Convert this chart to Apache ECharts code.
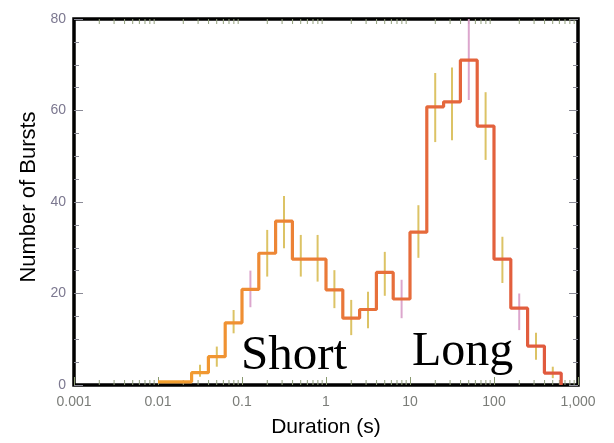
<!DOCTYPE html>
<html>
<head>
<meta charset="utf-8">
<script src="https://cdn.jsdelivr.net/npm/echarts@6/dist/echarts.min.js"></script>
<style>
  html, body { margin: 0; padding: 0; background: #fff; }
  #chart { width: 614px; height: 443px; }
</style>
</head>
<body>
<div id="chart"></div>
<script>
// bin edges as powers of ten (seconds), 0.2 decade wide
const binExp = [-2.0, -1.8, -1.6, -1.4, -1.2, -1.0, -0.8, -0.6, -0.4, -0.2, 0.0, 0.2,
  0.4, 0.6, 0.8, 1.0, 1.2, 1.4, 1.6, 1.8, 2.0, 2.2, 2.4, 2.6, 2.8]
// number of bursts in each bin
const counts = [0.7, 0.7, 2.7, 6.2, 13.6, 20.9, 28.8, 35.8, 27.5, 27.5, 20.8, 14.6,
  16.5, 24.6, 18.8, 33.4, 60.8, 61.9, 71, 56.6, 27.5, 16.8, 8.5, 2.6]
// error bar ends for each bin (null = not drawn)
const errLow = [null, null, 1.8, 4.0, 11.3, 17, 23.7, 29.9, 23.7, 22.6, 16.8, 10.9,
  12.4, 19.5, 14.6, 27.8, 53.1, 53.5, 62.3, 49.2, 22.3, 12, 5.5, 1.5]
const errHigh = [null, null, 4.4, 8.4, 16.4, 25, 33.9, 41.3, 32.8, 32.8, 25.1, 18.6,
  20.4, 29.1, 23, 39.3, 68.2, 69.4, 80, 64, 32.4, 20, 11.4, 4]
// x tick labels
const xTickVals = [0.001, 0.01, 0.1, 1, 10, 100, 1000]
const xTickLabels = ['0.001', '0.01', '0.1', '1', '10', '100', '1,000']

const chart = echarts.init(document.getElementById('chart'))

// step line points: left edge of each bin with its count, closed at the last edge
const stepData = counts.map((c, i) => [Math.pow(10, binExp[i]), c])
stepData.push([Math.pow(10, binExp[binExp.length - 1]), 0])

const errData = []
counts.forEach((c, i) => {
  if (errLow[i] == null) return
  const mid = Math.pow(10, (binExp[i] + binExp[i + 1]) / 2)
  errData.push([mid, errLow[i], errHigh[i], i])
})

// log minor tick positions (2..9 within each decade)
const minorVals = []
for (let k = -3; k < 3; k++) {
  for (let m = 2; m <= 9; m++) minorVals.push(m * Math.pow(10, k))
}

const labelFont = { fontFamily: 'Liberation Sans, Arial, sans-serif', fontSize: 14 }
const titleFont = 'Liberation Sans, Arial, sans-serif'

const option = {
  animation: false,
  grid: {
    left: 74, right: 36, top: 19, bottom: 58,
    show: true, borderColor: '#000', borderWidth: 3.5, backgroundColor: '#fff'
  },
  xAxis: {
    type: 'log',
    logBase: 10,
    min: 0.001,
    max: 1000,
    axisLine: { show: false },
    splitLine: { show: false },
    axisTick: { show: true, inside: true, length: 8, lineStyle: { color: '#8a9a70', width: 1 } },
    axisLabel: Object.assign({
      color: '#7a7c78',
      margin: 10,
      formatter: v => {
        const i = xTickVals.findIndex(t => Math.abs(Math.log10(t) - Math.log10(v)) < 1e-6)
        return i >= 0 ? xTickLabels[i] : ''
      }
    }, labelFont),
    name: 'Duration (s)',
    nameLocation: 'middle',
    nameGap: 32,
    nameTextStyle: { color: '#000', fontSize: 21, fontFamily: titleFont }
  },
  yAxis: [{
    type: 'value',
    min: 0,
    max: 80,
    interval: 20,
    position: 'left',
    axisLine: { show: false },
    splitLine: { show: false },
    axisTick: { show: true, inside: true, length: 9, lineStyle: { color: '#8a8a96', width: 1 } },
    minorTick: { show: true, splitNumber: 4, length: 5, lineStyle: { color: '#8a8a96', width: 1 } },
    axisLabel: Object.assign({ color: '#7c7890', margin: 8 }, labelFont),
    name: 'Number of Bursts',
    nameLocation: 'middle',
    nameGap: 29,
    nameTextStyle: { color: '#000', fontSize: 22, fontFamily: titleFont, padding: [0, 0, 0, 10] }
  }, {
    type: 'value',
    min: 0,
    max: 80,
    interval: 20,
    position: 'right',
    axisLine: { show: false },
    splitLine: { show: false },
    axisLabel: { show: false },
    axisTick: { show: true, inside: true, length: 9, lineStyle: { color: '#8a8a96', width: 1 } },
    minorTick: { show: true, splitNumber: 4, length: 5, lineStyle: { color: '#8a8a96', width: 1 } }
  }],
  series: [{
    // log minor ticks on top and bottom frame
    type: 'custom',
    silent: true,
    data: minorVals.map(v => [v]),
    renderItem: (params, api) => {
      const x = api.coord([api.value(0), 0])[0]
      const yb = api.coord([api.value(0), 0])[1]
      const yt = api.coord([api.value(0), 80])[1]
      const st = { stroke: '#93a07e', lineWidth: 1 }
      return {
        type: 'group',
        children: [
          { type: 'line', shape: { x1: x, y1: yb, x2: x, y2: yb - 5 }, style: st },
          { type: 'line', shape: { x1: x, y1: yt, x2: x, y2: yt + 5 }, style: st }
        ]
      }
    },
    z: 1
  }, {
    // error bars, some tinted pink as in the scan
    type: 'custom',
    silent: true,
    data: errData,
    renderItem: (params, api) => {
      const p1 = api.coord([api.value(0), api.value(1)])
      const p2 = api.coord([api.value(0), api.value(2)])
      const pink = [5, 14, 18, 21].indexOf(api.value(3)) >= 0
      return {
        type: 'line',
        shape: { x1: p1[0], y1: p1[1], x2: p2[0], y2: p2[1] },
        style: { stroke: pink ? 'rgba(214,150,196,0.85)' : 'rgba(214,184,74,0.85)', lineWidth: 2 }
      }
    },
    z: 2
  }, {
    type: 'line',
    step: 'end',
    data: stepData,
    showSymbol: false,
    lineStyle: {
      width: 3.2,
      color: new echarts.graphic.LinearGradient(0, 0, 1, 0, [
        { offset: 0, color: '#f4a32e' },
        { offset: 0.5, color: '#e8723a' },
        { offset: 1, color: '#e0583e' }
      ])
    },
    z: 3
  }],
  graphic: [{
    type: 'text',
    left: 241,
    top: 332,
    style: { text: 'Short', font: '49px "Liberation Serif", "Times New Roman", serif', fill: '#000' },
    z: 10
  }, {
    type: 'text',
    left: 412,
    top: 328,
    style: { text: 'Long', font: '48px "Liberation Serif", "Times New Roman", serif', fill: '#000' },
    z: 10
  }]
}

chart.setOption(option)
</script>
</body>
</html>
